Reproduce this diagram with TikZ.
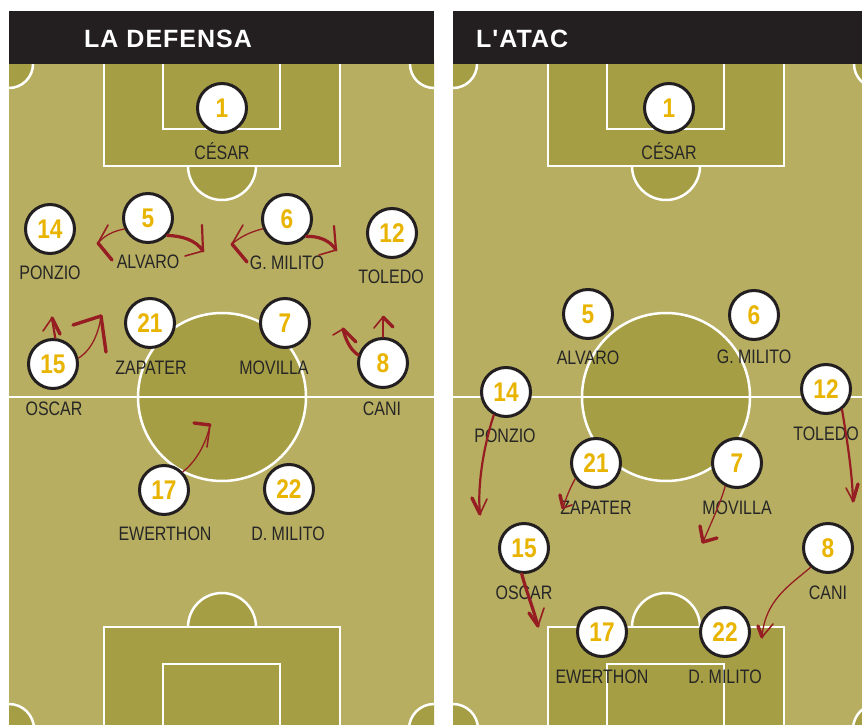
\documentclass[tikz,border=0pt]{standalone}
\usepackage{fontspec}
\setmainfont{Liberation Sans}
\newfontfamily\namefont[FakeStretch=0.82]{Liberation Sans}
\newfontfamily\numfont[FakeStretch=0.84]{Liberation Sans}
\newfontfamily\headfont[LetterSpace=4]{Liberation Sans}
\definecolor{fieldl}{HTML}{B7AE61}
\definecolor{fieldd}{HTML}{A69E44}
\definecolor{numy}{HTML}{E8B400}
\definecolor{arrowr}{HTML}{961E23}
\definecolor{hdr}{HTML}{231F20}
\definecolor{namec}{HTML}{262626}
\newcommand\drawpitch{%
  \begin{scope}
    \clip (9,60) rectangle (434,730);
    \fill[fieldl] (9,60) rectangle (434,730);
    \path[pfill] (222,166) circle[radius=34];
    \path[pfill] (222,627) circle[radius=34];
    \path[pfill] (222,397) circle[radius=84];
    \path[pfill] (9,64) circle[radius=24];
    \path[pfill] (434,64) circle[radius=24];
    \path[pfill] (9,729) circle[radius=25];
    \path[pfill] (434,729) circle[radius=25];
    \path[pfill] (104,50) rectangle (340,166);
    \draw[pline] (163,50) rectangle (280,129);
    \path[pfill] (104,627) rectangle (340,745);
    \draw[pline] (163,664) rectangle (280,745);
    \draw[pline] (9,397) -- (434,397);
  \end{scope}
}
\begin{document}
\begin{tikzpicture}[x=1pt,y=-1pt,
  pline/.style={draw=white,line width=2.5pt},
  pfill/.style={fill=fieldd,draw=white,line width=2.5pt},
  player/.style={circle,draw=hdr,line width=3pt,fill=white,minimum size=49pt,inner sep=0pt,
    text=numy,font=\numfont\bfseries\fontsize{27}{27}\selectfont},
  pname/.style={anchor=base,inner sep=0pt,text=namec,font=\namefont\fontsize{19.5}{19.5}\selectfont},
  header/.style={anchor=base west,inner sep=0pt,text=white,font=\headfont\bfseries\fontsize{25}{25}\selectfont},
  stemthin/.style={draw=arrowr,line width=1.3pt,line cap=round},
  stemmid/.style={draw=arrowr,line width=2.2pt,line cap=round},
  stemthick/.style={draw=arrowr,line width=3.2pt,line cap=round},
  barbthin/.style={draw=arrowr,line width=1.6pt,line cap=round},
  barbthick/.style={draw=arrowr,line width=3.4pt,line cap=round}]
\useasboundingbox (0,0) rectangle (862,725);
\clip (0,0) rectangle (862,725);
\fill[white] (0,0) rectangle (862,725);
% pitches
\drawpitch
\begin{scope}[shift={(444,0)}]
  \drawpitch
\end{scope}
% headers
\fill[hdr] (9,11) rectangle (434,64);
\fill[hdr] (453,11) rectangle (878,64);
\node[header] (hl) at (84,48) {LA DEFENSA};
\node[header] (hr) at (476,48) {L'ATAC};

% ---------- left panel: LA DEFENSA ----------
\node[player] (p1) at (222,108) {1};
\node[player] (p14) at (50,229) {14};
\node[player] (p5) at (148,218) {5};
\node[player] (p6) at (287,219) {6};
\node[player] (p12) at (392,233) {12};
\node[player] (p21) at (150,323) {21};
\node[player] (p7) at (285,323) {7};
\node[player] (p15) at (53,364) {15};
\node[player] (p8) at (383,363) {8};
\node[player] (p17) at (164,490) {17};
\node[player] (p22) at (289,489) {22};

\node[pname] (l1) at (222,159) {CÉSAR};
\node[pname] (l14) at (50,279) {PONZIO};
\node[pname] (l5) at (148,268) {ALVARO};
\node[pname] (l6) at (287,269) {G. MILITO};
\node[pname] (l12) at (391,283) {TOLEDO};
\node[pname] (l21) at (151,374) {ZAPATER};
\node[pname] (l7) at (274,374) {MOVILLA};
\node[pname] (l15) at (54,415) {OSCAR};
\node[pname] (l8) at (382,415) {CANI};
\node[pname] (l17) at (165,540) {EWERTHON};
\node[pname] (l22) at (288,540) {D. MILITO};

% arrows left panel
\coordinate (a1) at (98,243);
\draw[stemthin] (p5.205) .. controls (113,231) and (104,236) .. (a1);
\draw[barbthin] (a1) -- ++(10,-18);
\draw[barbthick] (a1) -- ++(14,17);

\coordinate (a2) at (203,251);
\draw[stemthick] (p5.318) .. controls (182,236) and (196,240) .. (a2);
\draw[stemmid] (a2) -- ++(-1,-26);
\draw[barbthin] (a2) -- ++(-18,5);

\coordinate (a3) at (232,244);
\draw[stemthin] (p6.202) .. controls (250,232) and (240,237) .. (a3);
\draw[barbthin] (a3) -- ++(11,-19);
\draw[barbthick] (a3) -- ++(15,18);

\coordinate (a4) at (336,250);
\draw[stemthick] (p6.318) .. controls (318,236) and (330,240) .. (a4);
\draw[stemmid] (a4) -- ++(-2,-24);
\draw[barbthin] (a4) -- ++(-17,5);

\coordinate (a5) at (52,318);
\draw[stemmid] (p15.85) -- (a5);
\draw[barbthin] (a5) -- ++(-9,13);
\draw[barbthick] (a5) -- ++(8,16);

\coordinate (a6) at (101,316);
\draw[stemthin] (p15.13) .. controls (92,350) and (99,332) .. (a6);
\draw[barbthick] (a6) -- ++(-28,9);
\draw[barbthick] (a6) -- ++(5,36);

\coordinate (a7) at (383,317);
\draw[stemmid] (p8.90) -- (a7);
\draw[barbthin] (a7) -- ++(-9,11);
\draw[barbthick] (a7) -- ++(10,10);

\coordinate (a8) at (343,329);
\draw[stemthick] (p8.162) .. controls (350,350) and (345,338) .. (a8);
\draw[barbthin] (a8) -- ++(-10,6);
\draw[barbthick] (a8) -- ++(13,13);

\coordinate (a9) at (210,425);
\draw[stemthin] (p17.44) .. controls (198,460) and (207,440) .. (a9);
\draw[barbthick] (a9) -- ++(-16,-2);
\draw[barbthin] (a9) -- ++(-3,22);

% ---------- right panel: L'ATAC ----------
\node[player] (q1) at (669,108) {1};
\node[player] (q5) at (588,314) {5};
\node[player] (q6) at (754,315) {6};
\node[player] (q14) at (506,392) {14};
\node[player] (q12) at (826,389) {12};
\node[player] (q21) at (596,463) {21};
\node[player] (q7) at (737,463) {7};
\node[player] (q15) at (524,548) {15};
\node[player] (q8) at (828,548) {8};
\node[player] (q17) at (602,632) {17};
\node[player] (q22) at (725,632) {22};

\node[pname] (m1) at (669,159) {CÉSAR};
\node[pname] (m5) at (588,364) {ALVARO};
\node[pname] (m6) at (754,363) {G. MILITO};
\node[pname] (m14) at (505,442) {PONZIO};
\node[pname] (m12) at (826,440) {TOLEDO};
\node[pname] (m21) at (596,514) {ZAPATER};
\node[pname] (m7) at (737,514) {MOVILLA};
\node[pname] (m15) at (524,599) {OSCAR};
\node[pname] (m8) at (828,599) {CANI};
\node[pname] (m17) at (602,683) {EWERTHON};
\node[pname] (m22) at (725,683) {D. MILITO};

% arrows right panel
\coordinate (b1) at (480,514);
\draw[stemmid] (q14.242) .. controls (484,445) and (477,485) .. (b1);
\draw[barbthick] (b1) -- ++(-8,-16);
\draw[barbthin] (b1) -- ++(7,-15);

\coordinate (b2) at (563,508);
\draw[stemthin] (q21.217) .. controls (570,488) and (566,498) .. (b2);
\draw[barbthick] (b2) -- ++(-3,-13);
\draw[barbthin] (b2) -- ++(9,-3);

\coordinate (b3) at (703,542);
\draw[stemthin] (q7.243) .. controls (720,505) and (710,525) .. (b3);
\draw[barbthick] (b3) -- ++(-3,-16);
\draw[barbthick] (b3) -- ++(14,-4);

\coordinate (b4) at (853,501);
\draw[stemmid] (q12.308) .. controls (847,440) and (852,470) .. (b4);
\draw[barbthin] (b4) -- ++(-7,-13);
\draw[barbthick] (b4) -- ++(5,-17);

\coordinate (b5) at (538,626);
\draw[stemthick] (q15.265) .. controls (526,590) and (533,608) .. (b5);
\draw[barbthick] (b5) -- ++(-9,-13);
\draw[barbthin] (b5) -- ++(6,-18);

\coordinate (b6) at (762,637);
\draw[stemthin] (q8.228) .. controls (790,585) and (765,600) .. (b6);
\draw[barbthick] (b6) -- ++(-4,-11);
\draw[barbthin] (b6) -- ++(11,-13);
\end{tikzpicture}
\end{document}
